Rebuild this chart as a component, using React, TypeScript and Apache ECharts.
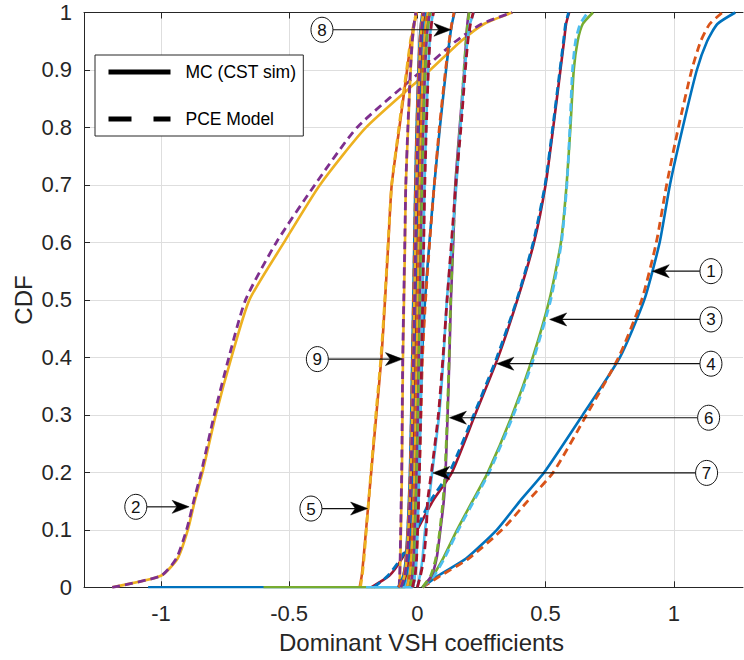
import React, { useEffect, useRef } from 'react';
import * as echarts from 'echarts';

// CDF probability levels shared by every curve
const CDF_LEVELS = [0, 0.02, 0.05, 0.1, 0.15, 0.2, 0.3, 0.4, 0.5, 0.6, 0.7, 0.8, 0.9, 0.95, 0.98, 1];

// Coefficient values (x) reached at each CDF level — MC (CST sim) and PCE model
const MC_1 = [0.02, 0.08, 0.19, 0.31, 0.4, 0.495, 0.645, 0.79, 0.885, 0.945, 0.985, 1.035, 1.09, 1.13, 1.17, 1.24];
const PCE_1 = [0.02, 0.09, 0.2, 0.33, 0.43, 0.53, 0.66, 0.785, 0.875, 0.932, 0.972, 1.018, 1.07, 1.105, 1.14, 1.19];
const MC_2 = [-1.19, -1.0, -0.935, -0.895, -0.868, -0.838, -0.786, -0.725, -0.655, -0.52, -0.38, -0.2, 0.05, 0.17, 0.26, 0.37];
const PCE_2 = [-1.19, -1.0, -0.94, -0.9, -0.872, -0.843, -0.792, -0.735, -0.67, -0.55, -0.4, -0.235, 0.02, 0.15, 0.25, 0.37];
const MC_3 = [0.02, 0.06, 0.1, 0.155, 0.215, 0.275, 0.37, 0.45, 0.515, 0.56, 0.582, 0.597, 0.61, 0.625, 0.645, 0.685];
const PCE_3 = [0.02, 0.065, 0.105, 0.16, 0.22, 0.28, 0.375, 0.455, 0.52, 0.562, 0.583, 0.595, 0.605, 0.617, 0.635, 0.665];
const MC_4 = [-0.18, -0.11, -0.06, 0.0, 0.06, 0.135, 0.225, 0.315, 0.39, 0.455, 0.5, 0.53, 0.558, 0.572, 0.58, 0.592];
const PCE_4 = [-0.17, -0.115, -0.065, -0.005, 0.05, 0.125, 0.22, 0.31, 0.388, 0.452, 0.498, 0.528, 0.556, 0.57, 0.578, 0.59];
const MC_5 = [-0.225, -0.217, -0.21, -0.2, -0.19, -0.18, -0.16, -0.14, -0.126, -0.113, -0.1, -0.07, -0.04, -0.025, -0.012, -0.002];
const PCE_5 = [-0.222, -0.215, -0.208, -0.199, -0.19, -0.181, -0.162, -0.142, -0.127, -0.114, -0.1, -0.072, -0.042, -0.027, -0.014, -0.004];
const MC_6 = [0.02, 0.055, 0.075, 0.09, 0.103, 0.11, 0.118, 0.125, 0.131, 0.14, 0.148, 0.165, 0.183, 0.19, 0.195, 0.2];
const PCE_6 = [0.02, 0.052, 0.072, 0.088, 0.1, 0.108, 0.117, 0.124, 0.13, 0.139, 0.15, 0.167, 0.182, 0.19, 0.196, 0.202];
const MC_7 = [0.0, 0.01, 0.02, 0.03, 0.045, 0.058, 0.085, 0.102, 0.115, 0.135, 0.152, 0.168, 0.185, 0.195, 0.205, 0.22];
const PCE_7 = [0.0, 0.012, 0.025, 0.035, 0.04, 0.055, 0.082, 0.1, 0.116, 0.133, 0.15, 0.17, 0.187, 0.197, 0.207, 0.218];
const MC_8 = [-0.02, -0.012, -0.006, 0.0, 0.003, 0.006, 0.012, 0.018, 0.03, 0.047, 0.066, 0.088, 0.112, 0.125, 0.135, 0.145];
const PCE_8 = [-0.018, -0.01, -0.005, 0.001, 0.004, 0.008, 0.014, 0.02, 0.032, 0.048, 0.066, 0.086, 0.11, 0.124, 0.134, 0.143];
const MC_9 = [-0.07, -0.068, -0.066, -0.064, -0.062, -0.06, -0.058, -0.056, -0.052, -0.048, -0.045, -0.036, -0.026, -0.019, -0.012, -0.005];
const PCE_9 = [-0.071, -0.069, -0.067, -0.065, -0.063, -0.061, -0.059, -0.057, -0.053, -0.049, -0.045, -0.037, -0.027, -0.02, -0.013, -0.006];
const MC_10 = [-0.05, -0.035, -0.028, -0.022, -0.018, -0.015, -0.01, -0.006, -0.002, 0.002, 0.006, 0.011, 0.017, 0.022, 0.027, 0.035];
const PCE_10 = [-0.048, -0.034, -0.027, -0.021, -0.017, -0.014, -0.009, -0.005, -0.001, 0.003, 0.007, 0.012, 0.018, 0.023, 0.028, 0.036];
const MC_11 = [-0.06, -0.045, -0.036, -0.03, -0.026, -0.022, -0.017, -0.013, -0.009, -0.005, -0.001, 0.004, 0.01, 0.015, 0.02, 0.028];
const PCE_11 = [-0.058, -0.044, -0.035, -0.029, -0.025, -0.021, -0.016, -0.012, -0.008, -0.004, 0.0, 0.005, 0.011, 0.016, 0.021, 0.029];
const MC_12 = [-0.04, -0.03, -0.024, -0.018, -0.014, -0.011, -0.006, -0.002, 0.002, 0.006, 0.01, 0.015, 0.022, 0.028, 0.034, 0.042];
const PCE_12 = [-0.039, -0.029, -0.023, -0.017, -0.013, -0.01, -0.005, -0.001, 0.003, 0.007, 0.011, 0.016, 0.023, 0.029, 0.035, 0.043];
const MC_13 = [-0.03, -0.02, -0.014, -0.01, -0.006, -0.003, 0.002, 0.006, 0.01, 0.014, 0.018, 0.023, 0.03, 0.036, 0.042, 0.05];
const PCE_13 = [-0.029, -0.019, -0.013, -0.009, -0.005, -0.002, 0.003, 0.007, 0.011, 0.015, 0.019, 0.024, 0.031, 0.037, 0.043, 0.051];
const MC_14 = [-0.02, -0.01, -0.004, 0.0, 0.004, 0.007, 0.012, 0.016, 0.02, 0.024, 0.028, 0.034, 0.042, 0.048, 0.054, 0.062];
const PCE_14 = [-0.019, -0.009, -0.003, 0.001, 0.005, 0.008, 0.013, 0.017, 0.021, 0.025, 0.029, 0.035, 0.043, 0.049, 0.055, 0.063];
const MC_15 = [-0.075, -0.055, -0.045, -0.038, -0.033, -0.029, -0.024, -0.02, -0.016, -0.012, -0.008, -0.003, 0.004, 0.009, 0.014, 0.02];
const PCE_15 = [-0.073, -0.054, -0.044, -0.037, -0.032, -0.028, -0.023, -0.019, -0.015, -0.011, -0.007, -0.002, 0.005, 0.01, 0.015, 0.021];
const MC_16 = [-0.065, -0.05, -0.042, -0.035, -0.03, -0.026, -0.02, -0.016, -0.012, -0.008, -0.004, 0.001, 0.007, 0.012, 0.017, 0.024];
const PCE_16 = [-0.064, -0.049, -0.041, -0.034, -0.029, -0.025, -0.019, -0.015, -0.011, -0.007, -0.003, 0.002, 0.008, 0.013, 0.018, 0.025];

// Lower-end x where some MC curves start (flat at CDF = 0)
const ZERO_TAIL_START: Record<number, number> = { 8: -1.05, 10: -0.6, 14: -0.2 };

const MC_CURVES = [MC_1, MC_2, MC_3, MC_4, MC_5, MC_6, MC_7, MC_8, MC_9, MC_10, MC_11, MC_12, MC_13, MC_14, MC_15, MC_16];
const PCE_CURVES = [PCE_1, PCE_2, PCE_3, PCE_4, PCE_5, PCE_6, PCE_7, PCE_8, PCE_9, PCE_10, PCE_11, PCE_12, PCE_13, PCE_14, PCE_15, PCE_16];

const X_TICKS = [-1, -0.5, 0, 0.5, 1];

// Annotations: label, circle x, arrow tip x, CDF level
const ANNOT_LABELS = ['1', '2', '3', '4', '5', '6', '7', '8', '9'];
const ANNOT_CIRCLE_X = [1.145, -1.098, 1.145, 1.145, -0.415, 1.136, 1.128, -0.372, -0.39];
const ANNOT_TIP_X = [0.916, -0.89, 0.516, 0.31, -0.194, 0.125, 0.06, 0.131, -0.058];
const ANNOT_Y = [0.55, 0.14, 0.466, 0.389, 0.137, 0.295, 0.199, 0.97, 0.397];

const COLORS = ['#0072BD', '#D95319', '#EDB120', '#7E2F8E', '#77AC30', '#4DBEEE', '#A2142F'];
const FONT = '"Liberation Sans", Arial, Helvetica, sans-serif';
const AXIS_COLOR = '#262626';

function curveData(xs: number[], tail?: number) {
  const pts: number[][] = [];
  if (tail !== undefined) pts.push([tail, 0]);
  xs.forEach((x, i) => pts.push([x, CDF_LEVELS[i]]));
  return pts;
}

export default function App() {
  const ref = useRef<HTMLDivElement>(null);
  useEffect(() => {
    if (!ref.current) return;
    const chart = echarts.init(ref.current, null, { renderer: 'svg' });
    const series: any[] = [];
    MC_CURVES.forEach((mc, k) => {
      series.push({
        type: 'line',
        name: 'mc' + (k + 1),
        data: curveData(mc, ZERO_TAIL_START[k + 1]),
        symbol: 'none',
        smooth: 0.2,
        lineStyle: { color: COLORS[(2 * k) % 7], width: 2.6 },
        itemStyle: { color: COLORS[(2 * k) % 7] },
        silent: true,
        z: 2,
      });
      series.push({
        type: 'line',
        name: 'pce' + (k + 1),
        data: curveData(PCE_CURVES[k]),
        symbol: 'none',
        smooth: 0.2,
        lineStyle: { color: COLORS[(2 * k + 1) % 7], width: 2.8, type: [8, 5] },
        itemStyle: { color: COLORS[(2 * k + 1) % 7] },
        silent: true,
        z: 2,
      });
    });
    series.push({
      type: 'line', name: 'MC (CST sim)', data: [], symbol: 'none',
      lineStyle: { color: '#000', width: 5 }, itemStyle: { color: '#000' },
    });
    series.push({
      type: 'line', name: 'PCE Model', data: [], symbol: 'none',
      lineStyle: { color: '#000', width: 5, type: [23, 22] }, itemStyle: { color: '#000' },
    });

    const option: any = {
      animation: false,
      backgroundColor: '#fff',
      grid: { left: 84, right: 1, top: 12.5, bottom: 72.7, containLabel: false },
      xAxis: [
        {
          type: 'value', min: -1.3, max: 1.27, position: 'bottom',
          axisLine: { show: true, onZero: false, lineStyle: { color: AXIS_COLOR, width: 1 } },
          axisTick: { show: true, inside: true, length: 6, customValues: X_TICKS, lineStyle: { color: AXIS_COLOR } },
          axisLabel: {
            show: true, customValues: X_TICKS, margin: 15, fontSize: 22, color: AXIS_COLOR, fontFamily: FONT,
            formatter: (v: number) => String(v),
          },
          splitLine: { show: true, lineStyle: { color: '#dedede', width: 1 } },
        },
        {
          type: 'value', min: -1.3, max: 1.27, position: 'top',
          axisLine: { show: true, onZero: false, lineStyle: { color: AXIS_COLOR, width: 1 } },
          axisTick: { show: true, inside: true, length: 6, customValues: X_TICKS, lineStyle: { color: AXIS_COLOR } },
          axisLabel: { show: false },
          splitLine: { show: false },
        },
      ],
      yAxis: {
        type: 'value', min: 0, max: 1, interval: 0.1,
        axisLine: { show: true, onZero: false, lineStyle: { color: AXIS_COLOR, width: 1 } },
        axisTick: { show: true, inside: true, length: 6, lineStyle: { color: AXIS_COLOR } },
        axisLabel: { margin: 12, fontSize: 22, color: AXIS_COLOR, fontFamily: FONT },
        splitLine: { show: true, lineStyle: { color: '#dedede', width: 1 } },
      },
      legend: {
        data: ['MC (CST sim)', 'PCE Model'],
        orient: 'vertical',
        left: 95, top: 55,
        padding: [8, 7, 8, 11],
        itemWidth: 62, itemHeight: 14, itemGap: 29,
        backgroundColor: '#fff',
        borderColor: AXIS_COLOR, borderWidth: 1,
        itemStyle: { opacity: 0, borderWidth: 0 },
        lineStyle: { width: 5 },
        textStyle: { fontSize: 17.5, color: '#000', fontFamily: FONT, padding: [0, 0, 0, 10] },
        selectedMode: false,
      },
      series,
    };
    chart.setOption(option);

    const graphics: any[] = [];
    const L = 17, W = 13;
    ANNOT_LABELS.forEach((lab, i) => {
      const c = chart.convertToPixel({ xAxisIndex: 0, yAxisIndex: 0 }, [ANNOT_CIRCLE_X[i], ANNOT_Y[i]]) as number[];
      const t = chart.convertToPixel({ xAxisIndex: 0, yAxisIndex: 0 }, [ANNOT_TIP_X[i], ANNOT_Y[i]]) as number[];
      const d = t[0] > c[0] ? 1 : -1;
      const ty = c[1];
      const notchX = t[0] - d * L * 0.72;
      graphics.push({
        type: 'line', z: 100,
        shape: { x1: c[0] + d * 11, y1: ty, x2: notchX, y2: ty },
        style: { stroke: '#111', lineWidth: 1.2 },
      });
      graphics.push({
        type: 'polygon', z: 100,
        shape: { points: [[t[0], ty], [t[0] - d * L, ty - W / 2], [notchX, ty], [t[0] - d * L, ty + W / 2]] },
        style: { fill: '#000', stroke: '#000', lineWidth: 0.5 },
      });
      graphics.push({
        type: 'ellipse', z: 100,
        shape: { cx: c[0], cy: ty, rx: 11, ry: 12.5 },
        style: { fill: '#fff', stroke: '#111', lineWidth: 1 },
      });
      graphics.push({
        type: 'text', z: 101, x: c[0], y: ty + 0.5,
        style: { text: lab, fontSize: 17, fontFamily: FONT, fill: '#111', align: 'center', verticalAlign: 'middle' },
      });
    });
    graphics.push({
      type: 'text', x: 421.5, y: 642,
      style: { text: 'Dominant VSH coefficients', fontSize: 24, fontFamily: FONT, fill: AXIS_COLOR, align: 'center', verticalAlign: 'middle' },
    });
    graphics.push({
      type: 'text', x: 23, y: 300, rotation: Math.PI / 2,
      style: { text: 'CDF', fontSize: 24, fontFamily: FONT, fill: AXIS_COLOR, align: 'center', verticalAlign: 'middle' },
    });
    chart.setOption({ graphic: graphics });

    return () => chart.dispose();
  }, []);
  return <div ref={ref} style={{ position: 'absolute', left: 0, top: 0, width: 744, height: 660 }} />;
}
